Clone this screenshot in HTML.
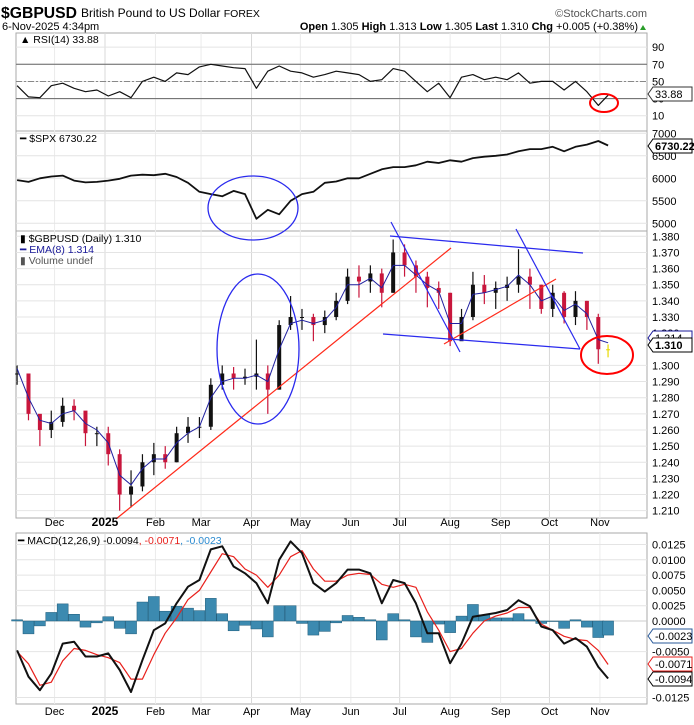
<!DOCTYPE html>
<html><head><meta charset="utf-8"><style>
body{margin:0;background:#fff;}
svg{display:block;font-family:"Liberation Sans",sans-serif;}
</style></head><body>
<svg id="c" width="694" height="725" viewBox="0 0 694 725" xmlns="http://www.w3.org/2000/svg">
<text x="1" y="18" font-size="16" font-weight="bold" textLength="76" lengthAdjust="spacingAndGlyphs">$GBPUSD</text>
<text x="81" y="17" font-size="12">British Pound to US Dollar <tspan font-size="10.5">FOREX</tspan></text>
<text x="647" y="17" font-size="11" fill="#555" text-anchor="end">©StockCharts.com</text>
<text x="2" y="30" font-size="11">6-Nov-2025 4:34pm</text>
<text x="638" y="30" font-size="11" text-anchor="end"><tspan font-weight="bold">Open</tspan> 1.305 <tspan font-weight="bold">High</tspan> 1.313 <tspan font-weight="bold">Low</tspan> 1.305 <tspan font-weight="bold">Last</tspan> 1.310 <tspan font-weight="bold">Chg</tspan> +0.005 (+0.38%)</text>
<polygon points="640,30 646,30 643,25" fill="#2a9d2a"/>
<g id="grid"></g><g id="marks"></g><g id="ann"></g><g id="lbl"></g>
</svg>
<script>
const days=[-54,-47,-40,-33,-26,-19,-12,-5,2,9,16,23,30,37,44,51,58,65,72,79,86,93,100,107,114,121,128,135,142,149,156,163,170,177,184,191,198,205,212,219,226,233,240,247,254,261,268,275,282,289,296,303,309];
const gbpClose=[1.295,1.270,1.260,1.265,1.275,1.272,1.258,1.258,1.245,1.220,1.225,1.240,1.245,1.240,1.258,1.262,1.262,1.288,1.295,1.292,1.293,1.295,1.285,1.325,1.330,1.330,1.325,1.330,1.340,1.355,1.352,1.357,1.345,1.370,1.362,1.355,1.348,1.345,1.315,1.330,1.350,1.345,1.348,1.350,1.355,1.350,1.335,1.345,1.330,1.340,1.330,1.310,1.310];
const gbpHigh=[1.300,1.282,1.268,1.272,1.280,1.279,1.270,1.262,1.262,1.248,1.235,1.245,1.252,1.250,1.262,1.268,1.268,1.292,1.300,1.299,1.298,1.316,1.300,1.328,1.343,1.335,1.332,1.334,1.345,1.360,1.362,1.362,1.360,1.378,1.375,1.365,1.358,1.352,1.345,1.335,1.358,1.356,1.352,1.355,1.372,1.360,1.350,1.350,1.346,1.346,1.340,1.332,1.313];
const gbpLow=[1.288,1.266,1.250,1.255,1.262,1.266,1.250,1.250,1.238,1.210,1.212,1.222,1.232,1.236,1.240,1.252,1.255,1.260,1.285,1.285,1.288,1.285,1.270,1.285,1.322,1.322,1.315,1.320,1.328,1.338,1.342,1.345,1.336,1.345,1.355,1.345,1.336,1.335,1.312,1.316,1.328,1.338,1.335,1.340,1.345,1.335,1.332,1.330,1.326,1.325,1.322,1.301,1.305];
const ema8=[1.298,1.280,1.266,1.264,1.270,1.272,1.264,1.260,1.252,1.232,1.226,1.236,1.242,1.242,1.252,1.258,1.262,1.280,1.290,1.292,1.292,1.294,1.290,1.310,1.326,1.328,1.326,1.328,1.336,1.350,1.350,1.354,1.348,1.362,1.362,1.356,1.350,1.346,1.326,1.326,1.344,1.345,1.347,1.349,1.356,1.350,1.340,1.343,1.334,1.338,1.332,1.316,1.314];
const rsi=[45,32,31,45,48,42,38,40,33,38,31,50,55,50,60,58,67,70,68,66,65,42,62,68,62,60,55,58,62,60,58,50,52,65,62,50,38,48,31,55,58,52,55,52,60,48,50,50,40,50,38,22,34];
const spx=[5960,5920,6000,6040,6060,5950,5910,5920,5950,5990,6060,6080,6070,6100,6030,5900,5700,5650,5600,5720,5650,5100,5300,5200,5500,5650,5700,5900,5930,6000,6000,6100,6200,6250,6250,6290,6370,6340,6400,6370,6450,6480,6500,6530,6600,6650,6650,6700,6600,6700,6750,6830,6730];
const macd=[-0.0048,-0.0091,-0.0113,-0.0086,-0.0037,-0.0034,-0.0058,-0.0058,-0.0053,-0.008,-0.0116,-0.0064,-0.0015,-0.0004,0.0029,0.0056,0.0067,0.0117,0.0122,0.0089,0.0078,0.0062,0.0029,0.010,0.013,0.0111,0.0062,0.0048,0.0062,0.0084,0.0084,0.0078,0.0029,0.0067,0.0062,0.0029,-0.002,-0.002,-0.0069,-0.0037,0.0007,0.001,0.0013,0.0018,0.0034,0.0024,-0.0009,-0.0015,-0.0037,-0.0028,-0.0042,-0.0075,-0.0094];
const signal=[-0.005,-0.007,-0.0105,-0.010,-0.0065,-0.0045,-0.0048,-0.0055,-0.006,-0.0068,-0.0095,-0.0095,-0.0055,-0.002,0.0005,0.0035,0.005,0.008,0.011,0.0105,0.0085,0.0075,0.0055,0.0075,0.0105,0.0115,0.0085,0.0065,0.0065,0.0075,0.0078,0.0076,0.006,0.0055,0.006,0.0055,0.0015,-0.0015,-0.005,-0.0045,-0.002,0,0.0008,0.0013,0.0022,0.0022,-0.0005,-0.0015,-0.0025,-0.003,-0.0032,-0.0048,-0.0071];
const monthLabels=["Dec","2025","Feb","Mar","Apr","May","Jun","Jul","Aug","Sep","Oct","Nov"];
const monthDays=[-31,0,31,59,90,120,151,181,212,243,273,304];
const rsiTicks=[90,70,50,30,10];
const spxTicks=[7000,6500,6000,5500,5000];
const gbpTicks=[1.380,1.370,1.360,1.350,1.340,1.330,1.320,1.300,1.290,1.280,1.270,1.260,1.250,1.240,1.230,1.220,1.210];
const macdTicks=[0.0125,0.0100,0.0075,0.0050,0.0025,0,-0.0050,-0.0125];

const NS="http://www.w3.org/2000/svg";
const L=16,R=647;
const x=d=>105+d*1.628;
const yR=v=>64.3+(70-v)*0.857;
const yS=v=>133.3+(7000-v)*0.045;
const yG=v=>236.3+(1.38-v)*1614;
const yM=v=>621-v*6120;
function mk(p,t,a){const e=document.createElementNS(NS,t);for(const k in a)e.setAttribute(k,a[k]);p.appendChild(e);return e;}
const G=document.getElementById('grid'),M=document.getElementById('marks'),A=document.getElementById('ann'),T=document.getElementById('lbl');
function txt(p,X,Y,s,o){const e=mk(p,'text',Object.assign({x:X,y:Y,'font-size':11},o||{}));e.textContent=s;return e;}

const panels=[[33,131,'rsi-panel'],[131,231,'spx-panel'],[231,518,'price-panel'],[533,704,'macd-panel']];
panels.forEach(p=>{const r=mk(G,'rect',{x:L,y:p[0],width:R-L,height:p[1]-p[0],fill:'none',stroke:'#aaa','stroke-width':1});

});
monthDays.forEach((d,i)=>{const X=x(d);if(X<L)return;const q=(i%3==1);
[[33,518],[533,704]].forEach(s=>{const l=mk(G,'line',{x1:X,x2:X,y1:s[0],y2:s[1],stroke:q?'#d8d8d8':'#ececec'});

});});
monthDays.forEach((d,i)=>{[526,715].forEach(Y=>{const t=txt(T,x(d),Y,monthLabels[i],{'text-anchor':'middle','font-weight':i==1?'bold':'normal','font-size':i==1?12:11});

});});
function hticks(ticks,f,fmt,y0,y1){ticks.forEach(v=>{const Y=f(v);if(Y<y0-1||Y>y1+1)return;
const l=mk(G,'line',{x1:L,x2:R,y1:Y,y2:Y,stroke:'#e4e4e4'});


const t=txt(T,652,Y+4,fmt(v));

});}
hticks(rsiTicks,yR,v=>v,33,131);
hticks(spxTicks,yS,v=>v,131,231);
hticks(gbpTicks,yG,v=>v.toFixed(3),231,518);
hticks(macdTicks,yM,v=>v.toFixed(4),533,704);
[[70,'#666',''],[30,'#666',''],[50,'#888','6,2,2,2']].forEach(r=>{const l=mk(G,'line',{x1:L,x2:R,y1:yR(r[0]),y2:yR(r[0]),stroke:r[1],'stroke-dasharray':r[2]});

});
const z=mk(G,'line',{x1:L,x2:R,y1:yM(0),y2:yM(0),stroke:'#ccc'});



function path(arr,f,color,w,name){const d=arr.map((v,i)=>(i?'L':'M')+x(days[i]).toFixed(1)+','+f(v).toFixed(1)).join('');
const p=mk(M,'path',{d:d,fill:'none',stroke:color,'stroke-width':w,'stroke-linejoin':'round'});

}
path(rsi,yR,'#111',1.2,'rsi-line');
path(spx,yS,'#111',1.8,'spx-line');
macd.forEach((v,i)=>{const h=v-signal[i];const X=x(days[i]);const y0=yM(0),y1=yM(h);
const b=mk(M,'rect',{x:X-5.5,y:Math.min(y0,y1),width:11,height:Math.max(0.5,Math.abs(y1-y0)),fill:'#3c8ab0',stroke:'#1d5a78','stroke-width':0.5});

});
path(signal,yM,'#e8201c',1.2,'macd-signal-line');
path(macd,yM,'#111',2,'macd-line');
gbpClose.forEach((c,i)=>{const o=i?gbpClose[i-1]:c;const X=x(days[i]);const col=i==gbpClose.length-1?'#e8d800':(c<o?'#c8163c':'#111');
const l=mk(M,'line',{x1:X,x2:X,y1:yG(gbpHigh[i]),y2:yG(gbpLow[i]),stroke:col,'stroke-width':1.2});


const b=mk(M,'rect',{x:X-2,y:yG(Math.max(o,c)),width:4,height:Math.max(1,Math.abs(yG(o)-yG(c))),fill:col});

});
path(ema8,yG,'#2020a0',1,'ema8-line');

function aline(a,b,c,d,col,n){const l=mk(A,'line',{x1:a,y1:b,x2:c,y2:d,stroke:col,'stroke-width':1.2});

}
aline(116,519,451,248,'#ff2a1a','red-uptrend-line');
aline(444,344,556,279,'#ff2a1a','red-support-line');
aline(390,236,583,253,'#2a2aee','blue-channel-top');
aline(383,334,580,349,'#2a2aee','blue-channel-bottom');
aline(391,222,460,352,'#2a2aee','blue-downtrend-1');
aline(516,229,580,349,'#2a2aee','blue-downtrend-2');
function ell(cx,cy,rx,ry,col,n){const e=mk(A,'ellipse',{cx:cx,cy:cy,rx:rx,ry:ry,fill:'none',stroke:col,'stroke-width':col=='red'?2:1.3});

}
ell(258,349,41,75,'#2a2aee','blue-ellipse-april-price');
ell(253,208,45,32,'#2a2aee','blue-ellipse-spx-dip');
ell(604,103,14,9,'red','red-ellipse-rsi');
ell(607,355,26,19,'red','red-ellipse-price');

function leg(X,Y,s,n,o){const t=txt(T,X,Y,s,o);return t;}
leg(20,43,'▲ RSI(14) 33.88','rsi-legend',{'font-size':10.5});
leg(20,142,'━ $SPX 6730.22','spx-legend',{'font-size':10.5});
leg(20,242,'▮ $GBPUSD (Daily) 1.310','price-legend',{'font-size':10.5});
leg(20,253,'━ EMA(8) 1.314','ema-legend',{'font-size':10.5,fill:'#1a1a9a'});
leg(20,264,'▮ Volume undef','volume-legend',{'font-size':10.5,fill:'#555'});
const ml=leg(18,544,'','macd-legend',{'font-size':10.5});
ml.innerHTML='<tspan>━ MACD(12,26,9) -0.0094</tspan><tspan fill="#e8201c">, -0.0071</tspan><tspan fill="#2a8ad0">, -0.0023</tspan>';

function vbox(Y,s,col,bold,n){const g=mk(T,'g',{});


mk(g,'path',{d:`M648,${Y} L653,${Y-7} L692,${Y-7} L692,${Y+7} L653,${Y+7} Z`,fill:'#fff',stroke:col});
txt(g,655,Y+4,s,{'font-weight':bold?'bold':'normal',fill:'#000'});}
vbox(94,'33.88','#333',false,'rsi-value-box');
vbox(146,'6730.22','#000',true,'spx-value-box');
vbox(338,'1.314','#1a1a9a',false,'ema-value-box');
vbox(345,'1.310','#000',true,'price-value-box');
vbox(636,'-0.0023','#2a5a9a',false,'macd-hist-value-box');
vbox(664,'-0.0071','#e8201c',false,'macd-signal-value-box');
vbox(679,'-0.0094','#000',false,'macd-value-box');
</script>
</body></html>
